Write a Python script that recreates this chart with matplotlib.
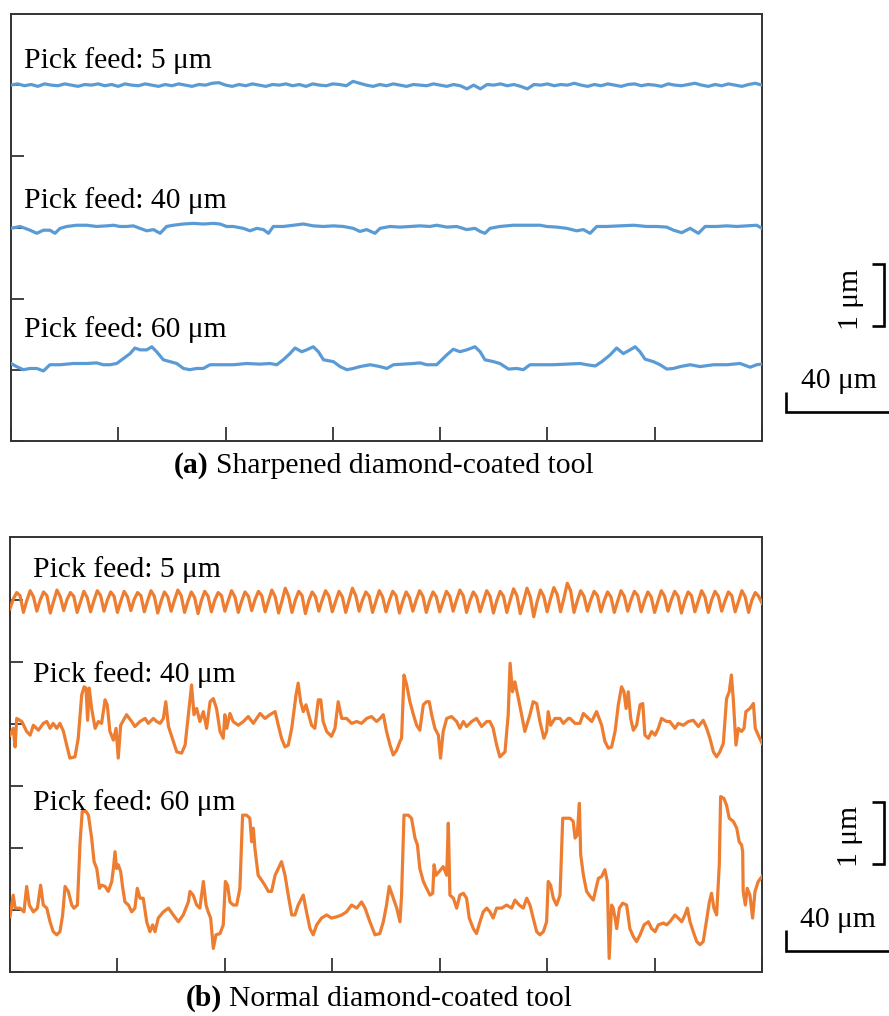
import numpy as np
import matplotlib
matplotlib.use("Agg")
import matplotlib.pyplot as plt

plt.rcParams['font.family'] = ['Liberation Serif', 'DejaVu Serif']

# ---------------------------------------------------------------------------
# Surface profiles, heights in µm along a 280 µm scan
# ---------------------------------------------------------------------------
X_TICKS = [0, 40, 80, 120, 160, 200, 240, 280]
SCALE_X_UM = 40
SCALE_Y_UM = 1

# (a) sharpened diamond-coated tool --------------------------------------
A5_STEP = 2.5
a5_z = [
    5.74, 5.76, 5.73, 5.75, 5.72, 5.76, 5.74, 5.73, 5.76, 5.74,
    5.72, 5.75, 5.74, 5.76, 5.73, 5.75, 5.72, 5.76, 5.74, 5.73,
    5.76, 5.74, 5.72, 5.75, 5.73, 5.76, 5.74, 5.72, 5.75, 5.74,
    5.77, 5.78, 5.74, 5.72, 5.75, 5.73, 5.76, 5.74, 5.72, 5.75,
    5.74, 5.76, 5.73, 5.75, 5.72, 5.76, 5.74, 5.73, 5.76, 5.75,
    5.73, 5.80, 5.77, 5.74, 5.72, 5.75, 5.73, 5.76, 5.74, 5.72,
    5.75, 5.74, 5.73, 5.76, 5.74, 5.72, 5.75, 5.73, 5.68, 5.74,
    5.68, 5.75, 5.74, 5.76, 5.73, 5.75, 5.72, 5.68, 5.75, 5.74,
    5.76, 5.73, 5.75, 5.74, 5.77, 5.74, 5.72, 5.75, 5.73, 5.76,
    5.74, 5.72, 5.75, 5.76, 5.73, 5.75, 5.74, 5.72, 5.76, 5.74,
    5.73, 5.75, 5.77, 5.74, 5.72, 5.75, 5.73, 5.76, 5.74, 5.72,
    5.75, 5.77, 5.74,
]

a40_x = [
    0.0, 3.4, 7.1, 9.6, 12.1, 14.5, 16.4, 18.3, 20.8, 24.5,
    28.2, 31.9, 35.7, 38.2, 40.6, 43.1, 45.6, 48.1, 50.6, 53.1,
    55.6, 58.0, 60.5, 64.3, 68.0, 71.7, 75.4, 77.9, 80.4, 82.9,
    86.6, 89.1, 91.6, 94.1, 96.0, 97.8, 101.5, 105.3, 109.0, 112.7,
    116.5, 120.2, 123.9, 127.6, 130.1, 132.6, 135.7,
    137.6, 141.3, 145.1, 148.8, 152.5, 156.2, 158.7, 162.5, 166.2, 169.9,
    173.0, 174.9, 176.7, 178.6, 182.3, 187.3, 192.3, 197.3, 199.7, 203.5,
    207.2, 210.9, 213.4, 215.9, 218.4, 222.1, 227.1, 232.1, 237.0, 240.8,
    244.5, 247.0, 250.1, 253.2, 256.3, 258.8, 263.1, 266.9, 270.6, 274.3,
    278.0, 280.0,
]
a40_z = [
    3.43, 3.46, 3.40, 3.35, 3.40, 3.40, 3.35, 3.43, 3.46, 3.48,
    3.48, 3.46, 3.47, 3.48, 3.46, 3.46, 3.47, 3.43, 3.39, 3.41,
    3.35, 3.46, 3.48, 3.50, 3.51, 3.50, 3.51, 3.50, 3.46, 3.46,
    3.43, 3.39, 3.43, 3.41, 3.35, 3.46, 3.46, 3.48, 3.50, 3.47,
    3.46, 3.47, 3.46, 3.43, 3.38, 3.41, 3.35,
    3.43, 3.46, 3.45, 3.46, 3.47, 3.46, 3.48, 3.45, 3.46, 3.41,
    3.43, 3.38, 3.35, 3.43, 3.46, 3.48, 3.48, 3.48, 3.46, 3.45,
    3.43, 3.39, 3.41, 3.35, 3.46, 3.46, 3.47, 3.48, 3.46, 3.46,
    3.45, 3.40, 3.36, 3.43, 3.35, 3.46, 3.46, 3.47, 3.46, 3.47,
    3.48, 3.43,
]

a60_x = [
    0.0, 2.1, 4.6, 7.1, 9.6, 12.1, 14.5, 18.3, 23.2, 28.2,
    31.9, 34.4, 36.9, 39.4, 41.9, 44.4, 46.2, 48.1, 50.6, 52.5,
    54.3, 56.8, 59.3, 61.8, 64.3, 66.7, 69.2, 71.7, 74.2, 77.9,
    82.9, 87.9, 92.8, 96.6, 99.1, 101.5, 104.0, 105.9, 108.4, 110.2,
    112.7, 114.6, 116.5, 120.2, 122.7, 125.2, 127.6, 130.1, 133.9, 137.6,
    140.1, 142.6, 146.3, 150.0, 152.5, 155.0, 158.7, 160.6, 162.5, 164.9,
    167.4, 169.9, 173.0, 174.9, 176.7, 179.9, 182.3, 185.5, 188.6, 191.0,
    193.5, 197.3, 202.2, 207.2, 212.2, 214.7, 217.8, 220.3, 223.4, 225.8,
    228.3, 230.8, 232.7, 234.5, 236.4, 239.5, 242.0, 244.5, 247.0, 249.5,
    253.2, 256.9, 261.9, 266.9, 271.8, 275.6, 278.0, 280.0,
]
a60_z = [
    1.25, 1.20, 1.15, 1.17, 1.17, 1.13, 1.23, 1.23, 1.25, 1.25,
    1.26, 1.23, 1.23, 1.25, 1.33, 1.41, 1.50, 1.47, 1.47, 1.52,
    1.44, 1.31, 1.28, 1.25, 1.17, 1.15, 1.17, 1.17, 1.23, 1.23,
    1.23, 1.25, 1.24, 1.25, 1.23, 1.31, 1.41, 1.50, 1.44, 1.47,
    1.52, 1.44, 1.31, 1.28, 1.20, 1.15, 1.17, 1.20, 1.23, 1.20,
    1.17, 1.23, 1.24, 1.25, 1.26, 1.23, 1.23, 1.31, 1.39, 1.48,
    1.44, 1.47, 1.52, 1.44, 1.31, 1.28, 1.25, 1.16, 1.17, 1.15,
    1.23, 1.23, 1.23, 1.24, 1.25, 1.23, 1.21, 1.28, 1.39, 1.50,
    1.41, 1.47, 1.52, 1.44, 1.32, 1.28, 1.23, 1.16, 1.17, 1.20,
    1.23, 1.20, 1.23, 1.23, 1.25, 1.19, 1.23, 1.24,
]

# (b) normal diamond-coated tool ------------------------------------------
B5_STEP = 1.25
b5_z = [
    5.86, 6.02, 6.12, 6.07, 5.80, 5.99, 6.15, 6.05,
    5.82, 6.00, 6.13, 6.07, 5.79, 5.98, 6.16, 6.05,
    5.83, 6.01, 6.12, 6.06, 5.80, 5.97, 6.14, 6.04,
    5.81, 5.99, 6.15, 6.07, 5.82, 6.00, 6.13, 6.06,
    5.80, 5.98, 6.14, 6.05, 5.83, 6.01, 6.12, 6.07,
    5.81, 5.99, 6.15, 6.06, 5.79, 5.98, 6.13, 6.05,
    5.82, 6.00, 6.16, 6.07, 5.80, 5.98, 6.13, 6.04,
    5.78, 5.99, 6.14, 6.06, 5.81, 6.00, 6.12, 6.07,
    5.82, 5.99, 6.15, 6.05, 5.80, 5.98, 6.13, 6.06,
    5.83, 6.01, 6.14, 6.07, 5.81, 5.99, 6.16, 6.05,
    5.79, 5.98, 6.19, 6.06, 5.80, 6.00, 6.14, 6.07,
    5.78, 5.99, 6.13, 6.05, 5.82, 6.00, 6.15, 6.06,
    5.81, 5.98, 6.14, 6.05, 5.80, 6.00, 6.19, 6.07,
    5.82, 6.00, 6.13, 6.06, 5.80, 5.98, 6.15, 6.05,
    5.81, 5.99, 6.14, 6.07, 5.79, 5.98, 6.13, 6.04,
    5.82, 6.00, 6.15, 6.06, 5.80, 5.99, 6.13, 6.05,
    5.81, 5.98, 6.14, 6.06, 5.82, 6.00, 6.16, 6.07,
    5.80, 5.99, 6.13, 6.05, 5.81, 5.98, 6.15, 6.06,
    5.79, 5.99, 6.14, 6.06, 5.80, 6.00, 6.18, 6.07,
    5.78, 5.98, 6.19, 6.05, 5.73, 5.97, 6.16, 6.06,
    5.81, 6.02, 6.20, 6.09, 5.81, 6.03, 6.27, 6.15,
    5.80, 5.99, 6.15, 6.06, 5.82, 6.00, 6.14, 6.07,
    5.81, 5.99, 6.13, 6.05, 5.80, 5.98, 6.15, 6.06,
    5.82, 6.00, 6.14, 6.07, 5.81, 5.99, 6.13, 6.05,
    5.80, 5.98, 6.15, 6.06, 5.82, 6.00, 6.14, 6.06,
    5.79, 5.99, 6.13, 6.07, 5.81, 5.98, 6.15, 6.05,
    5.80, 6.00, 6.14, 6.06, 5.82, 5.99, 6.13, 6.07,
    5.81, 5.98, 6.15, 6.05, 5.80, 6.00, 6.12, 6.06,
    5.95,
]

b40_x = [
    0.0, 1.2, 1.9, 2.5, 4.4, 6.2, 7.5, 8.7, 10.6, 12.4,
    13.7, 14.9, 16.1, 17.4, 18.6, 19.9, 21.1, 22.3, 24.2, 25.4,
    26.7, 27.6, 28.3, 28.9, 29.5, 30.4, 31.7, 32.9, 34.1, 35.4,
    36.2, 37.2, 38.5, 39.5, 40.3, 41.2, 43.4, 45.3, 46.5, 48.4,
    50.3, 51.5, 53.4, 54.6, 55.9, 57.1, 58.0, 59.0, 60.8, 62.1,
    63.9, 65.2, 66.4,
    67.6, 68.5, 69.5, 70.7, 72.0, 73.2, 74.5, 75.7, 76.9, 78.2,
    79.4, 80.0, 80.7, 81.9, 83.1, 85.0, 86.9, 88.7, 90.6, 93.1,
    94.9, 96.8, 98.7, 99.9, 101.1, 102.4, 103.6, 104.9, 106.5, 107.3,
    108.2, 109.2, 110.2, 111.1, 112.3, 113.5, 114.8, 115.7, 116.6, 117.9,
    119.7, 121.0, 122.2, 123.5, 125.3, 127.2, 129.1, 130.9, 132.8, 134.6,
    136.5,
    137.8, 139.0, 140.2, 141.5, 142.7, 144.0, 145.2, 145.8, 146.7, 147.7,
    148.9, 150.2, 151.4, 152.6, 153.9, 155.1, 156.1, 157.0, 158.2, 159.5,
    160.3, 161.3, 162.6, 164.4, 166.3, 167.5, 168.8, 170.0, 171.9, 173.7,
    175.6, 177.5, 178.7, 179.9, 181.2, 182.4, 184.3, 185.5, 186.2, 187.1,
    188.0, 189.3, 190.5, 191.7, 193.6, 194.8, 196.1, 197.3, 198.8, 199.8,
    200.4, 201.3, 202.9, 204.8, 206.0, 207.9,
    208.5, 210.4, 212.2, 213.5, 214.7, 216.6, 218.4, 220.3, 221.5, 222.8,
    224.0, 225.3, 226.5, 227.7, 228.6, 229.4, 230.2, 231.1, 232.1, 233.3,
    234.6, 235.6, 236.4, 237.7, 238.9, 240.2, 241.4, 242.6, 244.5, 245.7,
    247.6, 248.8, 250.7, 252.6, 254.4, 256.3, 258.1, 259.4, 260.6, 261.9,
    263.1, 264.3, 265.6, 266.8, 267.8, 268.6, 269.3, 270.3, 271.2, 272.4,
    273.3, 274.0, 275.5, 276.8, 277.5, 278.6, 280.0,
]
b40_z = [
    3.82, 3.93, 3.63, 4.09, 4.04, 3.88, 3.82, 3.98, 3.90, 4.01,
    4.04, 3.93, 4.01, 3.93, 4.01, 3.88, 3.66, 3.45, 3.47, 3.77,
    4.47, 4.60, 4.58, 4.06, 4.58, 4.25, 3.93, 4.04, 4.01, 4.39,
    4.31, 3.88, 3.74, 3.93, 3.45, 3.98, 4.15, 4.04, 3.96, 4.04,
    4.09, 4.01, 4.09, 4.04, 4.01, 4.09, 4.36, 3.96, 3.72, 3.55,
    3.53, 3.66, 4.15,
    4.63, 4.15, 4.25, 4.04, 4.20, 3.93, 4.36, 4.41, 4.25, 3.88,
    3.77, 4.15, 3.93, 4.17, 4.04, 3.98, 4.04, 4.12, 4.01, 4.17,
    4.09, 4.15, 4.20, 3.98, 3.77, 3.63, 3.66, 3.93, 4.47, 4.66,
    4.36, 4.20, 4.31, 4.17, 3.98, 3.93, 4.39, 4.39, 4.04, 3.88,
    3.80, 3.93, 4.36, 4.09, 4.09, 4.01, 4.04, 4.01, 4.09, 4.12,
    4.04,
    4.09, 4.15, 3.88, 3.66, 3.50, 3.58, 3.72, 3.77, 4.79, 4.63,
    4.36, 4.15, 3.98, 3.90, 4.31, 4.36, 4.36, 4.15, 3.93, 3.82,
    3.45, 3.88, 4.09, 4.12, 4.04, 3.93, 4.04, 3.96, 4.04, 4.09,
    3.96, 4.04, 4.04, 3.93, 3.66, 3.47, 3.55, 4.15, 4.98, 4.52,
    4.68, 4.41, 4.15, 3.88, 4.15, 4.36, 4.33, 4.04, 3.77, 3.88,
    4.20, 3.98, 4.09, 4.09, 4.01, 4.09,
    4.09, 4.01, 4.01, 4.17, 4.12, 4.04, 4.20, 3.98, 3.72, 3.61,
    3.63, 3.88, 4.31, 4.60, 4.52, 4.25, 4.52, 4.09, 3.90, 3.98,
    4.31, 4.33, 3.82, 3.77, 3.88, 3.82, 3.93, 4.09, 4.04, 4.04,
    3.93, 4.01, 3.98, 4.04, 4.06, 3.96, 4.06, 3.93, 3.77, 3.55,
    3.47, 3.55, 3.69, 4.41, 4.52, 4.79, 4.41, 3.66, 3.93, 3.88,
    3.93, 4.20, 4.25, 4.33, 3.93, 3.82, 3.69,
]

b60_x = [
    0.0, 1.2, 1.9, 3.7, 5.2, 6.2, 7.2, 8.7, 10.2, 11.4,
    12.4, 13.7, 14.9, 16.1, 17.4, 18.6, 19.6, 20.5, 21.7, 23.0,
    23.8, 25.1, 26.1, 26.9, 28.3, 29.2, 30.4, 31.3, 32.3, 33.3,
    34.1, 35.4, 36.6, 37.9, 38.5, 39.1, 39.7, 40.3, 41.2, 42.0,
    42.8, 44.1, 45.3, 46.5, 47.4, 48.4, 49.6, 50.9, 52.1, 53.1,
    54.0, 55.2, 57.1, 59.0, 60.8, 62.7, 64.5, 66.4,
    67.0, 68.2, 69.5, 70.7, 72.0, 73.0, 73.8, 74.7, 75.7, 76.7,
    78.2, 79.4, 80.2, 81.0, 81.9, 83.1, 84.4, 85.6, 86.6, 88.1,
    89.3, 90.0, 90.6, 91.2, 92.4, 93.7, 94.9, 96.2, 97.4, 98.7,
    99.9, 101.1, 102.4, 103.6, 104.9, 106.1, 107.3, 109.2, 110.4, 111.7,
    112.9, 114.2, 116.0, 117.9, 119.7, 121.6, 123.5, 125.3, 127.2, 129.1,
    130.9, 132.2, 134.0, 135.9, 137.7,
    139.0, 140.2, 141.2, 142.7, 144.0, 145.2, 145.8, 146.7, 148.3, 149.5,
    150.8, 151.7, 152.6, 153.9, 155.1, 156.4, 157.4, 157.9, 158.6, 159.8,
    161.3, 162.6, 163.2, 163.8, 165.1, 166.3, 167.5, 168.8, 170.0, 171.0,
    172.5, 173.7, 175.0, 176.2, 177.5, 178.7, 179.9, 181.2, 183.1, 184.9,
    186.8, 188.0, 189.6, 191.1, 192.4, 193.6, 194.8, 196.1, 197.3, 198.6,
    199.8, 200.4, 201.3, 202.3, 203.5, 204.8, 205.8, 207.3,
    208.5, 209.7, 210.4, 211.2, 212.0, 212.5, 213.5, 214.7, 216.0, 217.2,
    218.2, 219.1, 220.3, 221.5, 222.4, 223.1, 224.0, 224.6, 225.3, 225.9,
    226.9, 228.1, 229.6, 230.8, 232.1, 233.3, 234.6, 236.1, 237.7, 238.9,
    240.2, 241.4, 243.3, 244.5, 245.7, 247.6, 248.8, 250.1, 251.3, 252.2,
    253.2, 254.4, 255.7, 256.9, 258.1, 259.1, 260.4, 261.2, 262.1, 263.1,
    264.1, 264.6, 265.8, 266.8, 267.8, 269.3, 270.6, 271.5, 272.4, 272.8,
    273.0, 273.8, 274.5, 275.5, 276.5, 277.4, 278.6, 280.0,
]
b60_z = [
    0.89, 1.24, 1.03, 1.03, 0.97, 1.38, 1.08, 0.97, 1.03, 1.40,
    1.08, 1.03, 0.81, 0.65, 0.60, 0.65, 0.92, 1.38, 1.30, 1.08,
    1.03, 1.08, 2.10, 2.59, 2.59, 2.53, 2.16, 1.78, 1.67, 1.35,
    1.40, 1.38, 1.30, 1.46, 1.67, 1.94, 1.67, 1.73, 1.62, 1.35,
    1.13, 1.08, 0.97, 1.03, 1.35, 1.19, 1.19, 0.81, 0.65, 0.76,
    0.65, 0.87, 0.97, 1.03, 0.92, 0.81, 0.92, 1.13,
    1.30, 1.24, 1.08, 1.03, 1.46, 1.08, 0.97, 0.87, 0.38, 0.60,
    0.62, 0.76, 1.46, 1.40, 1.13, 1.08, 1.08, 1.35, 2.53, 2.53,
    2.48, 2.10, 2.32, 1.99, 1.56, 1.48, 1.40, 1.30, 1.30, 1.56,
    1.67, 1.78, 1.56, 1.24, 0.92, 0.92, 1.08, 1.24, 0.97, 0.70,
    0.60, 0.76, 0.87, 0.92, 0.87, 0.89, 0.92, 0.97, 1.08, 1.03,
    1.13, 1.03, 0.81, 0.60, 0.62,
    0.81, 1.08, 1.38, 1.19, 1.03, 0.81, 1.24, 2.53, 2.53, 2.48,
    2.16, 2.05, 1.67, 1.46, 1.35, 1.24, 1.27, 1.73, 1.56, 1.62,
    1.70, 1.56, 2.40, 1.24, 1.19, 1.03, 1.24, 1.27, 1.19, 0.87,
    0.70, 0.62, 0.81, 0.97, 1.03, 0.97, 0.87, 1.03, 1.03, 1.08,
    1.03, 1.16, 1.08, 1.03, 1.19, 1.08, 0.87, 0.65, 0.60, 0.65,
    0.81, 1.46, 1.40, 1.19, 1.08, 1.24, 2.48, 2.48,
    2.48, 2.43, 2.16, 2.21, 2.72, 1.89, 1.56, 1.30, 1.22, 1.16,
    1.35, 1.51, 1.54, 1.65, 1.46, 0.22, 1.08, 1.03, 0.87, 0.70,
    1.03, 1.11, 1.08, 0.70, 0.57, 0.49, 0.60, 0.76, 0.81, 0.70,
    0.65, 0.76, 0.79, 0.76, 0.81, 0.92, 0.87, 0.81, 0.92, 1.03,
    0.81, 0.65, 0.49, 0.44, 0.49, 0.76, 1.13, 1.27, 1.03, 0.92,
    1.73, 2.83, 2.80, 2.69, 2.48, 2.43, 2.32, 2.10, 2.05, 1.94,
    1.30, 1.08, 1.35, 1.24, 0.87, 1.30, 1.46, 1.54,
]

for xs, zs in [(a40_x, a40_z), (a60_x, a60_z), (b40_x, b40_z), (b60_x, b60_z)]:
    assert len(xs) == len(zs), (len(xs), len(zs))

a5_x = np.arange(len(a5_z)) * A5_STEP
b5_x = np.arange(len(b5_z)) * B5_STEP

LABELS = ["Pick feed: 5 μm", "Pick feed: 40 μm", "Pick feed: 60 μm"]

# ---------------------------------------------------------------------------
# Figure layout
# ---------------------------------------------------------------------------
BLUE = '#5B9BD5'
ORANGE = '#ED7D31'
FRAME = '#333333'
FS = 21.3
W, H, DPI = 889, 1016, 100

fig = plt.figure(figsize=(W / DPI, H / DPI), dpi=DPI)


def axes_px(left, top, right, bottom):
    return fig.add_axes([left / W, 1 - bottom / H, (right - left) / W, (bottom - top) / H])


ax_a = axes_px(11, 14, 762, 441)
ax_b = axes_px(10, 537, 762, 972)

YTOP_A = 427 / 62
YTOP_B = 435 / 62


def style(ax, ytop, yticks):
    ax.set_xlim(X_TICKS[0], X_TICKS[-1])
    ax.set_ylim(0, ytop)
    ax.set_xticks(X_TICKS)
    ax.set_yticks(yticks)
    ax.tick_params(axis='both', direction='in', width=1.2, color='#222222',
                   labelbottom=False, labelleft=False)
    ax.tick_params(axis='x', length=10)
    ax.tick_params(axis='y', length=9)
    for s in ax.spines.values():
        s.set_linewidth(1.4)
        s.set_color(FRAME)


style(ax_a, YTOP_A, np.linspace(0, YTOP_A, 7)[:-1])
style(ax_b, YTOP_B, np.arange(0, 7))

LW = 2.3
for xs, zs in [(a5_x, a5_z), (a40_x, a40_z), (a60_x, a60_z)]:
    ax_a.plot(xs, zs, color=BLUE, lw=LW, solid_joinstyle='round', zorder=3)
for xs, zs in [(b5_x, b5_z), (b40_x, b40_z), (b60_x, b60_z)]:
    ax_b.plot(xs, zs, color=ORANGE, lw=LW, solid_joinstyle='round', zorder=3)

# curve labels (axes fraction, baseline anchored)
for label, y in zip(LABELS, [0.873, 0.545, 0.243]):
    ax_a.text(0.0175, y, label, transform=ax_a.transAxes, fontsize=FS,
              ha='left', va='baseline', zorder=5)
for label, y in zip(LABELS, [0.909, 0.667, 0.372]):
    ax_b.text(0.031, y, label, transform=ax_b.transAxes, fontsize=FS,
              ha='left', va='baseline', zorder=5)


def scale_bars(ax, bracket_x, bracket_y0, label_y, l_x0, l_y0, l_y1, hlabel_y):
    kw = dict(color='black', lw=1.9, clip_on=False, solid_joinstyle='miter',
              solid_capstyle='butt')
    tick = 4.5
    ax.plot([bracket_x - tick, bracket_x, bracket_x, bracket_x - tick],
            [bracket_y0 + SCALE_Y_UM, bracket_y0 + SCALE_Y_UM, bracket_y0, bracket_y0], **kw)
    ax.text(bracket_x - 12.5, label_y, f"{SCALE_Y_UM} μm", rotation=90,
            fontsize=FS, ha='center', va='center')
    ax.plot([l_x0, l_x0, l_x0 + SCALE_X_UM], [l_y1, l_y0, l_y0], **kw)
    ax.text(l_x0 + 19.5, hlabel_y, f"{SCALE_X_UM} μm", fontsize=FS,
            ha='center', va='baseline')


scale_bars(ax_a, 325.5, 1.855, 2.29, 289.0, 0.463, 0.795, 0.85)
scale_bars(ax_b, 325.4, 1.737, 2.18, 288.9, 0.344, 0.677, 0.73)


def caption(tag, text, x_px, base_px):
    t = fig.text(x_px / W, 1 - base_px / H, tag, fontsize=FS, fontweight='bold',
                 ha='left', va='baseline')
    ax_a.annotate(text, xy=(1, 0), xycoords=t, xytext=(5, 0),
                  textcoords='offset points', fontsize=FS, ha='left', va='bottom',
                  annotation_clip=False)


caption("(a)", "Sharpened diamond-coated tool", 174, 473)
caption("(b)", "Normal diamond-coated tool", 186, 1006)

fig.savefig("out.png", dpi=DPI)
